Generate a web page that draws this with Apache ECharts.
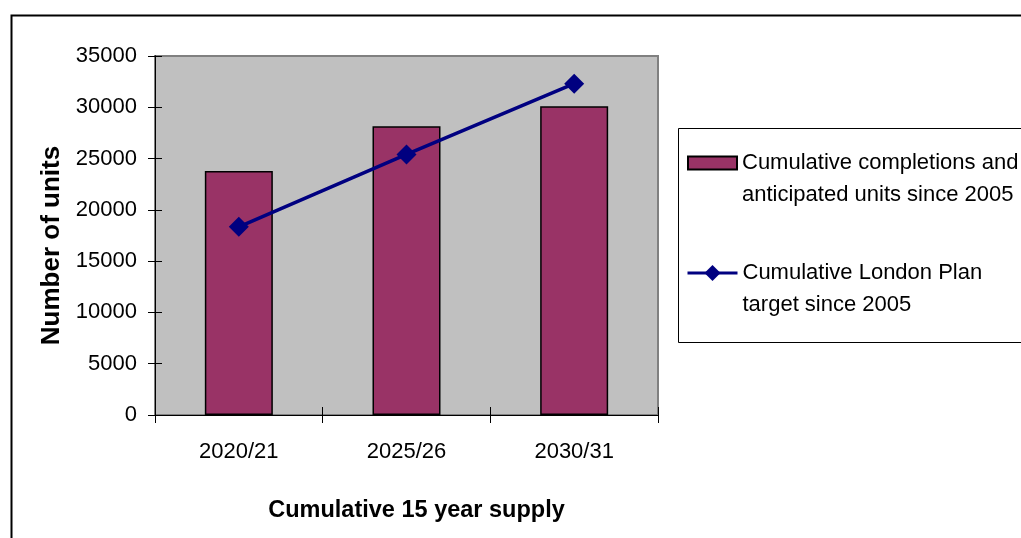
<!DOCTYPE html>
<html>
<head>
<meta charset="utf-8">
<script src="https://cdn.jsdelivr.net/npm/echarts@6/dist/echarts.min.js"></script>
<style>html,body{margin:0;padding:0;background:#fff;}#c{width:1021px;height:538px;}</style>
</head>
<body>
<div id="c"></div>
<script>
const categories = ['2020/21', '2025/26', '2030/31'];
const completions = [23800, 28150, 30100];
const targets = [18350, 25400, 32300];
const seriesNames = ['Cumulative completions and\nanticipated units since 2005', 'Cumulative London Plan\ntarget since 2005'];
const xTitle = 'Cumulative 15 year supply';
const yTitle = 'Number of units';

const FONT = '"Liberation Sans", Arial, sans-serif';
const legendText = {fontFamily: FONT, fontSize: 22, color: '#000', lineHeight: 32};
const GRID = {left: 155, right: 363, top: 56, bottom: 123};
const plotW = 1021 - GRID.left - GRID.right;
const plotH = 538 - GRID.top - GRID.bottom;
const chart = echarts.init(document.getElementById('c'), null, {renderer: 'canvas'});
chart.setOption({
  animation: false,
  backgroundColor: '#ffffff',
  textStyle: {fontFamily: FONT},
  graphic: [
    {type: 'rect', left: 9, top: 13, shape: {x: 0, y: 0, width: 1100, height: 600}, style: {fill: 'none', stroke: '#000', lineWidth: 2}, z: -10},
    {type: 'rect', shape: {x: 678.5, y: 128.5, width: 500, height: 214}, style: {fill: '#fff', stroke: '#000', lineWidth: 1}, z: -5}
  ],
  grid: Object.assign({show: true, backgroundColor: '#C0C0C0', borderColor: '#808080', borderWidth: 2}, GRID),
  legend: [
    {orient: 'vertical', left: 687, top: 115, padding: 0,
      itemWidth: 49, itemHeight: 13,
      data: [{name: seriesNames[0], icon: 'rect'}],
      formatter: function (n) { return '\n' + n; },
      textStyle: legendText
    },
    {orient: 'vertical', left: 686, top: 225, padding: 0,
      itemWidth: 50, itemHeight: 20,
      data: [{name: seriesNames[1], lineStyle: {width: 3}}],
      formatter: function (n) { return '\n' + n; },
      textStyle: legendText
    }
  ],
  xAxis: [
    {type: 'category', data: categories, boundaryGap: true,
      axisLine: {lineStyle: {color: '#000', width: 1}},
      axisTick: {show: true, length: 8, lineStyle: {color: '#000'}},
      axisLabel: {fontSize: 22, color: '#000', margin: 26, fontFamily: FONT},
      name: xTitle, nameLocation: 'middle', nameGap: 84,
      nameTextStyle: {fontSize: 23.5, fontWeight: 'bold', color: '#000', fontFamily: FONT, padding: [0, 0, 0, 20]}
    },
    {type: 'category', data: categories, position: 'top', offset: -plotH, boundaryGap: true,
      axisLine: {show: true, lineStyle: {color: '#000', width: 1}}, axisLabel: {show: false}, splitLine: {show: false},
      axisTick: {show: true, inside: false, length: 8, lineStyle: {color: '#000'}}
    }
  ],
  yAxis: [
    {type: 'value', min: 0, max: 35000, interval: 5000,
      axisLine: {show: true, lineStyle: {color: '#000', width: 1}},
      axisTick: {show: true, length: 7, lineStyle: {color: '#000'}},
      splitLine: {show: false},
      axisLabel: {fontSize: 22, color: '#000', margin: 18, fontFamily: FONT, formatter: function (v) { return String(v); }},
      name: yTitle, nameLocation: 'middle', nameGap: 90, nameRotate: 90,
      nameTextStyle: {fontSize: 26, fontWeight: 'bold', color: '#000', fontFamily: FONT, padding: [0, 20, 0, 0]}
    },
    {type: 'value', min: 0, max: 35000, interval: 5000, position: 'right', offset: -plotW,
      axisLine: {show: true, lineStyle: {color: '#000', width: 1}}, axisLabel: {show: false}, splitLine: {show: false},
      axisTick: {show: true, inside: false, length: 7, lineStyle: {color: '#000'}}
    }
  ],
  series: [
    {name: seriesNames[0], type: 'bar', data: completions, barWidth: 68,
      itemStyle: {color: '#993366', borderColor: '#000', borderWidth: 1.5}},
    {name: seriesNames[1], type: 'line', data: targets, xAxisIndex: 1, yAxisIndex: 1,
      symbol: 'diamond', symbolSize: 20,
      lineStyle: {color: '#000080', width: 3.5},
      itemStyle: {color: '#000080'}}
  ]
});
</script>
</body>
</html>
